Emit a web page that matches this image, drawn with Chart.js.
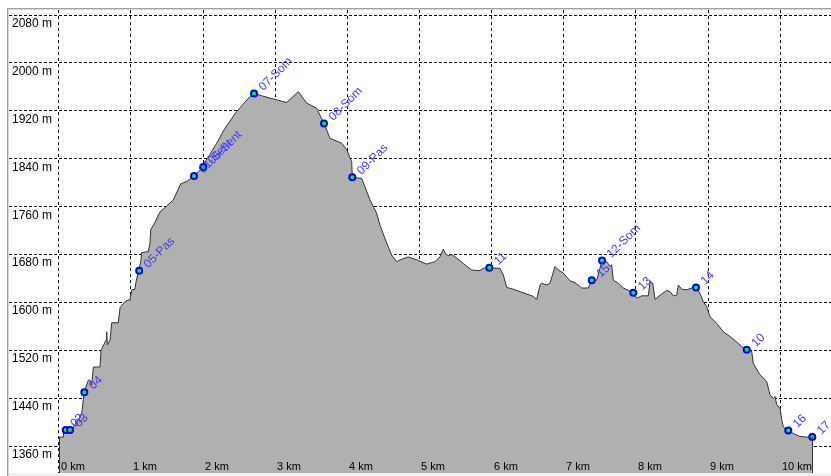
<!DOCTYPE html>
<html>
<head>
<meta charset="utf-8">
<script src="https://cdn.jsdelivr.net/npm/chart.js@4/dist/chart.umd.min.js"></script>
<style>
  html, body { margin: 0; padding: 0; background: #fff; }
  canvas { display: block; }
</style>
</head>
<body>
<canvas id="profileChart" width="831" height="476"></canvas>
<script>
// Elevation profile (distance in km, elevation in m)
const distKm = [0.000, 0.064, 0.066, 0.097, 0.157, 0.184, 0.295, 0.319, 0.341, 0.355, 0.410, 0.434, 0.457, 0.480, 0.572, 0.586, 0.656, 0.665, 0.674, 0.711,
  0.735, 0.826, 0.850, 0.917, 0.965, 0.988, 1.012, 1.057, 1.071, 1.103, 1.137, 1.150, 1.242, 1.265, 1.275, 1.335, 1.404, 1.515, 1.588, 1.691,
  1.774, 1.875, 2.004, 2.028, 2.190, 2.305, 2.467, 2.652, 2.707, 2.929, 3.160, 3.321, 3.437, 3.576, 3.677, 3.760, 3.922, 3.992, 4.061, 4.069,
  4.200, 4.315, 4.407, 4.453, 4.546, 4.615, 4.685, 4.730, 4.846, 4.962, 5.101, 5.216, 5.285, 5.331, 5.354, 5.400, 5.447, 5.516, 5.608, 5.724,
  5.839, 5.885, 5.968, 6.047, 6.116, 6.162, 6.209, 6.301, 6.394, 6.578, 6.625, 6.671, 6.694, 6.764, 6.809, 6.879, 6.925, 6.994, 7.087, 7.156,
  7.249, 7.340, 7.388, 7.457, 7.531, 7.595, 7.641, 7.664, 7.687, 7.756, 7.826, 7.964, 8.011, 8.080, 8.172, 8.196, 8.233, 8.265, 8.334, 8.427,
  8.473, 8.518, 8.565, 8.588, 8.635, 8.704, 8.773, 8.833, 8.888, 8.934, 8.981, 9.027, 9.120, 9.211, 9.304, 9.397, 9.466, 9.536, 9.605, 9.627,
  9.720, 9.813, 9.859, 9.905, 9.928, 9.952, 9.998, 10.021, 10.043, 10.112, 10.182, 10.274, 10.367, 10.445];
const elevM = [1375, 1375, 1385, 1387, 1387, 1388, 1409, 1415, 1437, 1450, 1470, 1470, 1462, 1492, 1492, 1520, 1537, 1551, 1529, 1537,
  1566, 1566, 1591, 1601, 1604, 1604, 1621, 1622, 1634, 1651, 1668, 1683, 1685, 1699, 1721, 1734, 1751, 1763, 1771, 1798,
  1802, 1811, 1826, 1834, 1866, 1891, 1919, 1944, 1949, 1941, 1934, 1952, 1933, 1924, 1899, 1874, 1866, 1855, 1835, 1809,
  1807, 1771, 1749, 1729, 1699, 1679, 1668, 1671, 1676, 1671, 1664, 1668, 1676, 1689, 1682, 1678, 1680, 1674, 1665, 1654,
  1653, 1657, 1658, 1657, 1657, 1646, 1625, 1622, 1618, 1610, 1605, 1629, 1632, 1629, 1632, 1660, 1654, 1649, 1636, 1633,
  1624, 1624, 1637, 1637, 1670, 1668, 1660, 1663, 1637, 1632, 1624, 1616, 1607, 1611, 1611, 1635, 1632, 1605, 1612, 1620,
  1618, 1611, 1612, 1629, 1622, 1621, 1624, 1625, 1615, 1601, 1593, 1576, 1565, 1551, 1543, 1534, 1526, 1521, 1518, 1498,
  1479, 1468, 1445, 1440, 1443, 1429, 1423, 1404, 1392, 1386, 1381, 1376, 1375, 1375];

// Waypoints
const wpNames = ["02", "03", "04", "05-Pas", "01-Sent", "06-Sent", "07-Som", "08-Som", "09-Pas", "11", "15", "12-Som", "13", "14", "10", "16", "17"];
const wpKm = [0.097, 0.157, 0.355, 1.115, 1.875, 2.004, 2.707, 3.677, 4.069, 5.968, 7.388, 7.531, 7.964, 8.833, 9.536, 10.112, 10.445];
const wpElev = [1387, 1387, 1450, 1653, 1811, 1826, 1949, 1899, 1809, 1658, 1637, 1670, 1616, 1625, 1521, 1386, 1375];

// Axis ticks
const xTicks = [0, 1, 2, 3, 4, 5, 6, 7, 8, 9, 10];
const yTicks = [1360, 1440, 1520, 1600, 1680, 1760, 1840, 1920, 2000, 2080];

const profileData = distKm.map((d, i) => ({ x: d, y: elevM[i] }));
const wpData = wpKm.map((d, i) => ({ x: d, y: wpElev[i] }));

const profilePlugin = {
  id: "profilePlugin",
  beforeDraw(chart) {
    const ctx = chart.ctx;
    ctx.save();
    ctx.fillStyle = "#ffffff";
    ctx.fillRect(0, 0, chart.width, chart.height);
    // frame
    ctx.fillStyle = "#a0a0a0";
    ctx.fillRect(7, 8, chart.width - 7, 1);
    ctx.fillRect(7, 8, 1, chart.height - 8);
    ctx.fillStyle = "#d8d8d8";
    ctx.fillRect(8, 9, chart.width - 8, 1);
    ctx.fillRect(8, 9, 1, chart.height - 9);
    ctx.fillStyle = "#f0f0f0";
    ctx.fillRect(9, chart.chartArea.bottom, chart.width - 9, chart.height - chart.chartArea.bottom);
    ctx.restore();
  },
  afterDatasetsDraw(chart) {
    // closing edges of the profile
    const ctx = chart.ctx;
    const x = chart.scales.x, y = chart.scales.y;
    const bottom = chart.chartArea.bottom;
    ctx.save();
    ctx.strokeStyle = "#333333";
    ctx.lineWidth = 1;
    [0, distKm.length - 1].forEach(i => {
      const px = Math.round(x.getPixelForValue(distKm[i])) + 0.5;
      ctx.beginPath();
      ctx.moveTo(px, y.getPixelForValue(elevM[i]));
      ctx.lineTo(px, bottom);
      ctx.stroke();
    });
    ctx.restore();
  },
  afterDraw(chart) {
    const ctx = chart.ctx;
    const x = chart.scales.x, y = chart.scales.y;
    ctx.save();
    ctx.fillStyle = "#000000";
    ctx.font = "12px 'Liberation Sans', Arial, sans-serif";
    ctx.textBaseline = "alphabetic";
    ctx.textAlign = "left";
    yTicks.forEach(v => {
      ctx.fillText(v + " m", 12, Math.round(y.getPixelForValue(v)) + 12);
    });
    ctx.font = "11px 'Liberation Sans', Arial, sans-serif";
    xTicks.forEach(v => {
      ctx.fillText(v + " km", Math.round(x.getPixelForValue(v)) + 2, chart.chartArea.bottom - 3);
    });
    // waypoint labels
    ctx.fillStyle = "#3c3cff";
    ctx.font = "12px 'Liberation Sans', Arial, sans-serif";
    wpNames.forEach((name, i) => {
      const px = x.getPixelForValue(wpKm[i]);
      const py = y.getPixelForValue(wpElev[i]);
      ctx.save();
      ctx.translate(px, py);
      ctx.rotate(-Math.PI / 4);
      ctx.fillText(name, 8, 5);
      ctx.restore();
    });
    ctx.restore();
  }
};

new Chart(document.getElementById("profileChart"), {
  type: "line",
  data: {
    datasets: [
      {
        label: "Waypoints",
        data: wpData,
        showLine: false,
        pointRadius: 3,
        pointBorderWidth: 2,
        pointBackgroundColor: "#00ff00",
        pointBorderColor: "#0000ff",
        order: 0
      },
      {
        label: "Profile",
        data: profileData,
        borderColor: "#333333",
        borderWidth: 1,
        backgroundColor: "#b0b0b0",
        fill: "start",
        pointRadius: 0,
        tension: 0,
        order: 1
      }
    ]
  },
  options: {
    responsive: false,
    animation: false,
    devicePixelRatio: 1,
    layout: { autoPadding: false, padding: { left: 9, top: 10, right: 0, bottom: 3 } },
    plugins: {
      legend: { display: false },
      tooltip: { enabled: false }
    },
    scales: {
      x: {
        type: "linear",
        min: -0.689,
        max: 10.704,
        z: 1,
        afterBuildTicks: (scale) => { scale.ticks = xTicks.map(v => ({ value: v })); },
        ticks: { display: false },
        grid: { color: "#000000", lineWidth: 1, drawTicks: false },
        border: { display: false, dash: [3, 3] }
      },
      y: {
        type: "linear",
        min: 1315,
        max: 2088.4,
        z: 1,
        afterBuildTicks: (scale) => { scale.ticks = yTicks.map(v => ({ value: v })); },
        ticks: { display: false },
        grid: { color: "#000000", lineWidth: 1, drawTicks: false },
        border: { display: false, dash: [3, 2] }
      }
    }
  },
  plugins: [profilePlugin]
});
</script>
</body>
</html>
